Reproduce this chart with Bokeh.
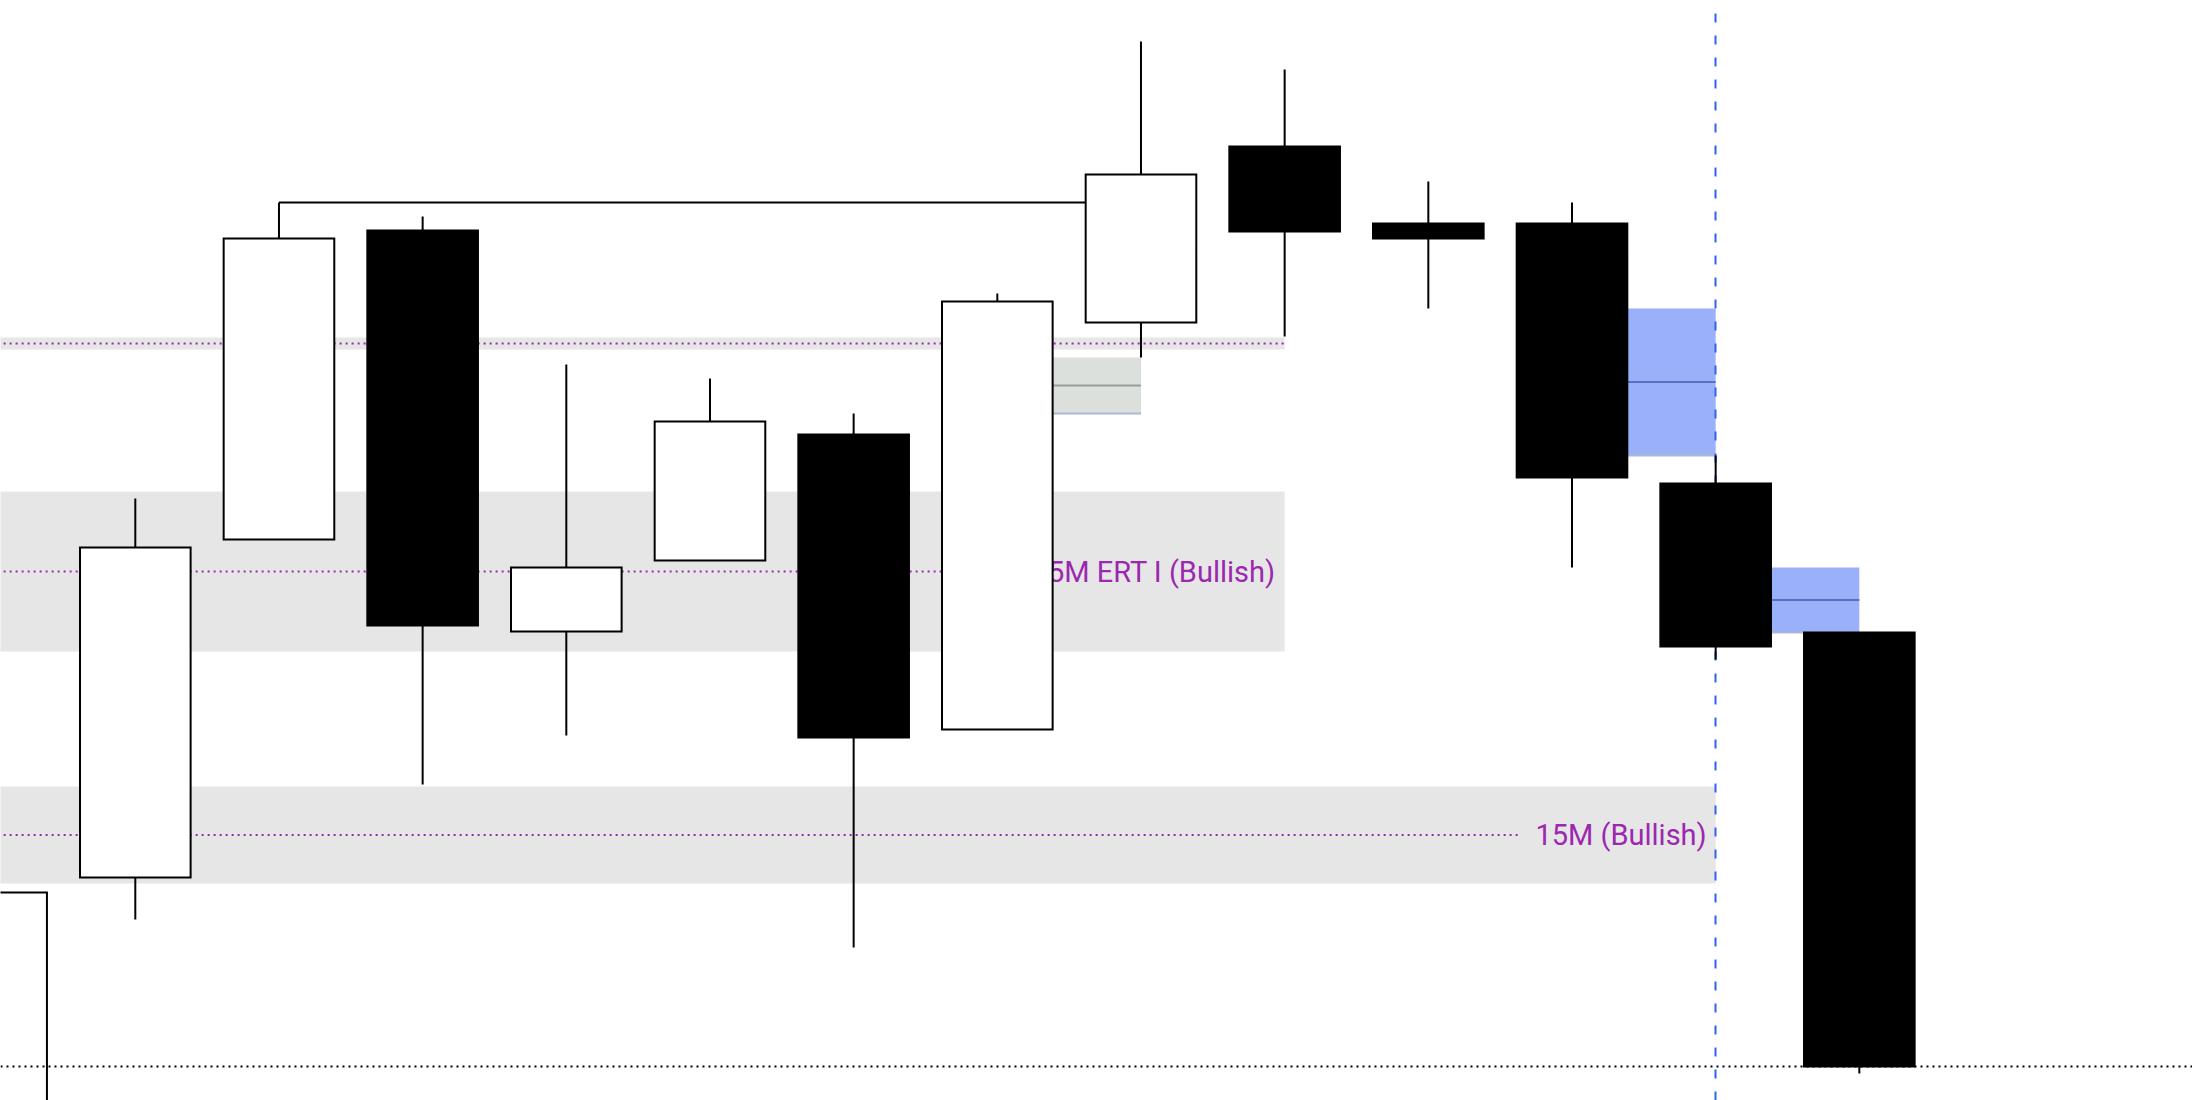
from bokeh.plotting import figure
from bokeh.models import Range1d, ColumnDataSource
from bokeh.core.properties import value
from bokeh.embed import file_html
from bokeh.resources import INLINE

# ---------------- data ----------------
bar_index = list(range(14))
opens  = [4712.50, 4780.75, 4865.25, 4942.50, 4842.25, 4860.00, 4891.50,
          4817.75, 4919.50, 4963.50, 4944.25, 4944.25, 4879.25, 4842.00]
highs  = [4777.00, 4875.50, 4949.50, 4946.00, 4909.00, 4905.50, 4896.75,
          4926.75, 4989.75, 4982.75, 4954.75, 4949.50, 4886.25, 4842.00]
lows   = [4705.00, 4770.25, 4865.25, 4804.00, 4816.25, 4860.00, 4763.25,
          4817.75, 4910.75, 4916.00, 4923.00, 4858.25, 4835.25, 4731.75]
closes = [4777.00, 4863.25, 4940.50, 4843.75, 4858.25, 4894.75, 4815.75,
          4924.75, 4956.50, 4942.25, 4940.50, 4880.75, 4838.50, 4733.50]

# horizontal zones with a dotted level and an optional label
zone_labels = ["", "15M ERT I (Bullish)", "15M (Bullish)"]
zone_start  = [0, 0, 0]
zone_end    = [9, 9, 12]
zone_top    = [4915.75, 4877.25, 4803.50]
zone_bottom = [4912.75, 4837.25, 4779.25]
zone_level  = [4914.25, 4857.25, 4791.375]

# fair value gaps
fvg_start     = [7, 11, 12]
fvg_end       = [8, 12, 13]
fvg_top       = [4910.75, 4923.00, 4858.25]
fvg_bottom    = [4896.75, 4886.25, 4842.00]
fvg_mitigated = [True, False, False]

# swing-high line (from bar 2 high until bar 8)
swing_from, swing_to = 2, 8
# vertical session marker
marker_bar = 12

# ---------------- figure ----------------
W, H = 2192, 1100
X_START, X_END = 0.0617, 15.319
Y_LOW, Y_HIGH = 4725.0, 5000.0
px_per_bar = W / (X_END - X_START)

p = figure(width=W, height=H, output_backend="svg", toolbar_location=None,
           x_range=Range1d(X_START, X_END), y_range=Range1d(Y_LOW, Y_HIGH),
           min_border=0, outline_line_color=None, background_fill_color="white",
           border_fill_color="white")
p.axis.visible = False
p.xgrid.visible = False
p.ygrid.visible = False

PURPLE = "#9c27b0"

# zones (gray bands)
p.quad(left=zone_start, right=zone_end, top=zone_top, bottom=zone_bottom,
       fill_color="#e6e6e6", line_color=None)

# dotted levels, stopping before the label
label_clearance_px = [0, 268, 197]
lvl_end = [e - c / px_per_bar for e, c in zip(zone_end, label_clearance_px)]
p.segment(x0=zone_start, y0=zone_level, x1=lvl_end, y1=zone_level,
          line_color=PURPLE, line_width=2, line_dash="2 4")

# labels
lab = ColumnDataSource(dict(x=[e for e, t in zip(zone_end, zone_labels) if t],
                            y=[l for l, t in zip(zone_level, zone_labels) if t],
                            t=[t for t in zone_labels if t]))
p.text(x="x", y="y", text="t", source=lab, text_align="right",
       text_baseline="middle", x_offset=-9, text_color=PURPLE,
       text_font=value("Roboto"), text_font_size="29px")

# fair value gap boxes
fvg_fill = ["#dce0dd" if m else "#9ab0f8" for m in fvg_mitigated]
fvg_mid_col = ["#9a9e9a" if m else "#5b6ec2" for m in fvg_mitigated]
fvg_mid = [(a + b) / 2 for a, b in zip(fvg_top, fvg_bottom)]
p.quad(left=fvg_start, right=fvg_end, top=fvg_top, bottom=fvg_bottom,
       fill_color=fvg_fill, line_color=None)
p.segment(x0=fvg_start, y0=fvg_mid, x1=fvg_end, y1=fvg_mid,
          line_color=fvg_mid_col, line_width=2)
p.segment(x0=fvg_start, y0=fvg_bottom, x1=fvg_end, y1=fvg_bottom,
          line_color="#aab7d6", line_width=2)

# vertical dashed marker
p.vspan(x=[marker_bar], line_color="#2f62f2", line_width=2,
        line_dash="9 13", line_dash_offset=9)

# swing high line
p.segment(x0=[swing_from], y0=[highs[swing_from]], x1=[swing_to],
          y1=[highs[swing_from]], line_color="black", line_width=2)

# candles: wicks, then bodies as polygons
HALF = 0.385
body_top = [max(o, c) for o, c in zip(opens, closes)]
body_bot = [min(o, c) for o, c in zip(opens, closes)]
body_fill = ["white" if c >= o else "black" for o, c in zip(opens, closes)]
xs = [[i - HALF, i + HALF, i + HALF, i - HALF] for i in bar_index]
ys = [[t, t, b, b] for t, b in zip(body_top, body_bot)]
p.segment(x0=bar_index, y0=highs, x1=bar_index, y1=lows,
          line_color="black", line_width=2)
p.patches(xs=xs, ys=ys, fill_color=body_fill, line_color="black",
          line_width=2, line_join="miter")

# last price dotted line
p.hspan(y=[closes[-1]], line_color="black", line_width=2, line_dash="2 4")

open("out.html", "w").write(file_html(p, INLINE))
